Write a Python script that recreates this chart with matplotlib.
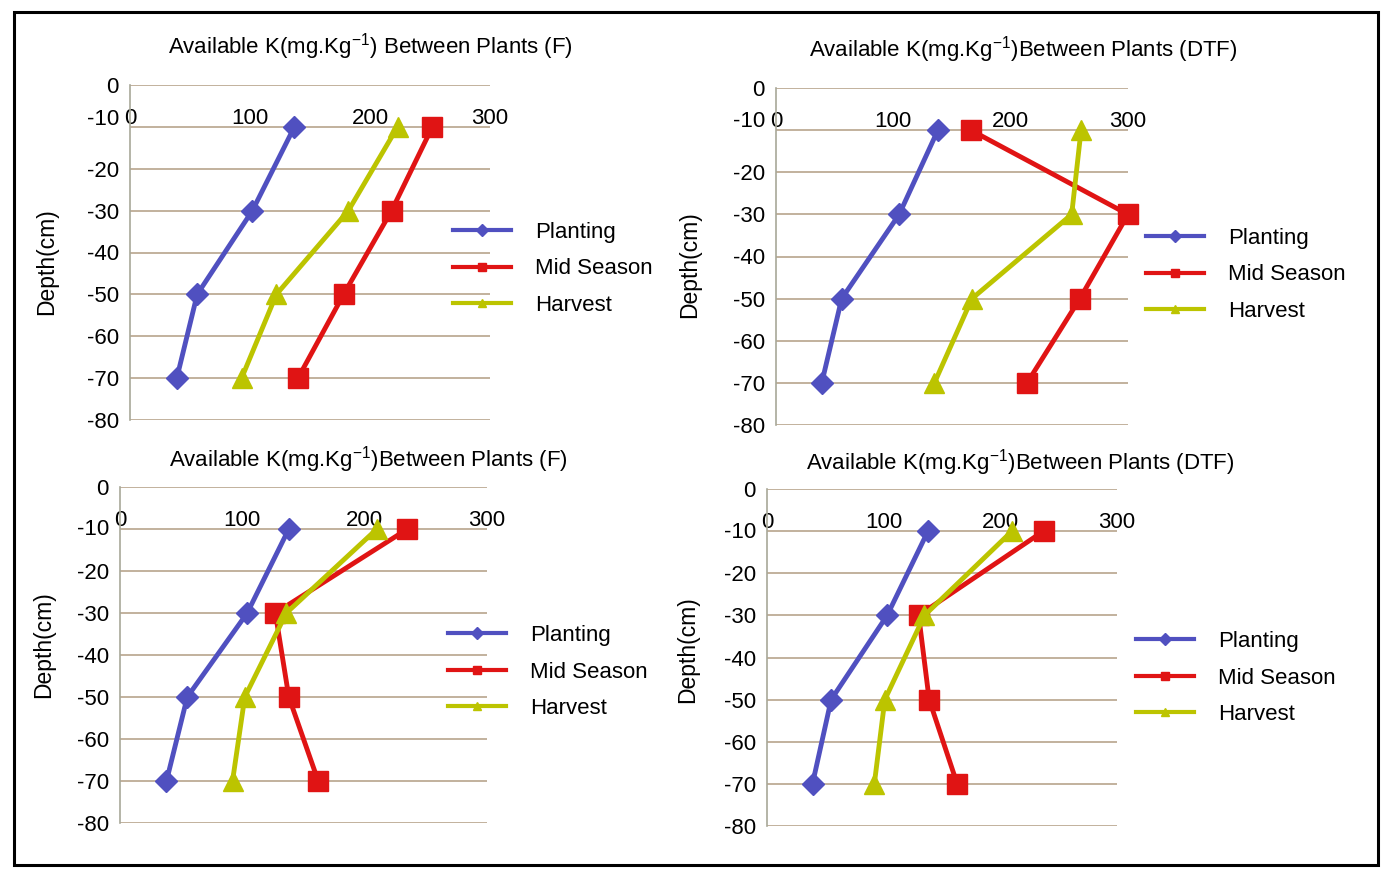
import matplotlib
matplotlib.use("Agg")
import matplotlib.pyplot as plt
import matplotlib.transforms as mtransforms
from matplotlib.lines import Line2D
from matplotlib.patches import Rectangle

plt.rcParams["font.family"] = ["Liberation Sans", "DejaVu Sans"]
plt.rcParams["mathtext.fontset"] = "custom"
plt.rcParams["mathtext.rm"] = "Liberation Sans"
plt.rcParams["axes.unicode_minus"] = False

depth = [-10, -30, -50, -70]
series_names = ["Planting", "Mid Season", "Harvest"]

# top-left: Between Plants (F)
tl_planting = [137, 102, 56, 39]
tl_mid = [252, 218, 178, 140]
tl_harvest = [223, 182, 122, 93]
# top-right: Between Plants (DTF)
tr_planting = [138, 105, 56, 39]
tr_mid = [166, 300, 259, 214]
tr_harvest = [260, 252, 167, 135]
# bottom-left: Between Plants (F)
bl_planting = [138, 104, 55, 38]
bl_mid = [235, 127, 138, 162]
bl_harvest = [210, 136, 102, 92]
# bottom-right: Between Plants (DTF)
br_planting = [138, 103, 55, 39]
br_mid = [237, 130, 139, 163]
br_harvest = [210, 135, 101, 92]

x_ticks = [0, 100, 200, 300]
y_ticks = [0, -10, -20, -30, -40, -50, -60, -70, -80]

colors = ["#5050c0", "#e01414", "#bcc400"]
markers = ["D", "s", "^"]
msizes = [11, 15, 15]

W, H = 1385, 869
fig = plt.figure(figsize=(W / 100, H / 100), dpi=100)
fig.patch.set_facecolor("white")


def px_axes(x0, x1, y0, y1):
    return fig.add_axes([x0 / W, 1 - y1 / H, (x1 - x0) / W, (y1 - y0) / H])


# axes, data, title, title pos, ylabel pos, legend pos, shift of the -10 label
panels = [
    (px_axes(130, 490, 85, 420), [tl_planting, tl_mid, tl_harvest],
     r"Available K(mg.Kg$^{-1}$) Between Plants (F)", (370, 47), (47, 262), (453, 269), 10),
    (px_axes(776, 1128, 88, 425), [tr_planting, tr_mid, tr_harvest],
     r"Available K(mg.Kg$^{-1}$)Between Plants (DTF)", (1023, 50), (690, 265), (1146, 275), 11),
    (px_axes(120, 487, 487, 823), [bl_planting, bl_mid, bl_harvest],
     r"Available K(mg.Kg$^{-1}$)Between Plants (F)", (368, 460), (44, 645), (448, 672), 2),
    (px_axes(767, 1117, 489, 826), [br_planting, br_mid, br_harvest],
     r"Available K(mg.Kg$^{-1}$)Between Plants (DTF)", (1020, 463), (688, 650), (1136, 678), 1),
]

grid_color = "#b8a48c"

for ax, data, title, tpos, ypos, lpos, shift in panels:
    for vals, name, c, m, ms in zip(data, series_names, colors, markers, msizes):
        ax.plot(vals, depth, color=c, lw=3.5, marker=m, markersize=ms,
                label=name, clip_on=False, zorder=3)
    ax.set_xlim(0, 300)
    ax.set_ylim(-80, 0)
    ax.set_yticks(y_ticks)
    ax.set_xticks(x_ticks)
    ax.yaxis.grid(True, color=grid_color, lw=1.2)
    ax.set_axisbelow(True)
    for s in ["top", "right", "bottom"]:
        ax.spines[s].set_visible(False)
    ax.spines["left"].set_color("#a8a898")
    ax.spines["left"].set_linewidth(1.2)
    ax.tick_params(axis="y", length=0, pad=8, labelsize=16)
    ax.xaxis.set_ticks_position("top")
    ax.tick_params(axis="x", length=0, pad=-32, labelsize=16,
                   labeltop=True, labelbottom=False)
    ax.set_facecolor("none")

    # the "-10" label sits a little above its gridline in the original
    lab = ax.get_yticklabels()[1]
    lab.set_transform(lab.get_transform() +
                      mtransforms.ScaledTranslation(0, shift / 100, fig.dpi_scale_trans))

    fig.text(tpos[0] / W, 1 - tpos[1] / H, title, ha="center", va="center", fontsize=16)
    fig.text(ypos[0] / W, 1 - ypos[1] / H, "Depth(cm)", rotation=90,
             ha="center", va="center", fontsize=16.5)

    handles = [Line2D([], [], color=c, lw=3, marker=m, markersize=6)
               for c, m in zip(colors, markers)]
    fig.legend(handles, series_names, loc="center left",
               bbox_to_anchor=(lpos[0] / W, 1 - lpos[1] / H),
               frameon=False, fontsize=16, borderpad=0, borderaxespad=0,
               handlelength=2.6, handletextpad=1.1, labelspacing=0.7)

fig.add_artist(Rectangle((14 / W, 1 - 865 / H), (1378 - 14) / W, (865 - 12) / H,
                         transform=fig.transFigure, fill=False, ec="black", lw=2.2))

fig.savefig("out.png", dpi=100)
